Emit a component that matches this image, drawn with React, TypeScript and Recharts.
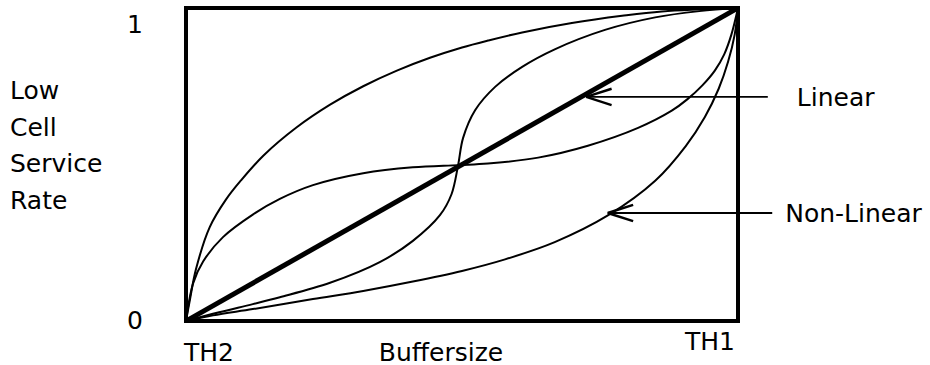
import {
  ComposedChart,
  Line,
  XAxis,
  YAxis,
  ReferenceArea,
  ReferenceLine,
} from 'recharts';

// normalised buffersize (TH2 = 0, TH1 = 1) vs low cell service rate (0..1)
const linearCurve = [
  { u: 0, v: 0 },
  { u: 1, v: 1 },
];

const upperCurve = [
  { u: 0, v: 0 },
  { u: 0.007, v: 0.067 },
  { u: 0.018, v: 0.165 },
  { u: 0.043, v: 0.3 },
  { u: 0.072, v: 0.387 },
  { u: 0.1, v: 0.45 },
  { u: 0.14, v: 0.528 },
  { u: 0.2, v: 0.618 },
  { u: 0.261, v: 0.691 },
  { u: 0.321, v: 0.75 },
  { u: 0.382, v: 0.8 },
  { u: 0.442, v: 0.841 },
  { u: 0.5, v: 0.874 },
  { u: 0.547, v: 0.896 },
  { u: 0.609, v: 0.922 },
  { u: 0.699, v: 0.952 },
  { u: 0.79, v: 0.975 },
  { u: 0.862, v: 0.989 },
  { u: 1, v: 1 },
];

const lowerCurve = [
  { u: 0, v: 0 },
  { u: 0.049, v: 0.018 },
  { u: 0.121, v: 0.038 },
  { u: 0.23, v: 0.07 },
  { u: 0.321, v: 0.096 },
  { u: 0.411, v: 0.126 },
  { u: 0.5, v: 0.16 },
  { u: 0.578, v: 0.197 },
  { u: 0.668, v: 0.252 },
  { u: 0.765, v: 0.338 },
  { u: 0.85, v: 0.448 },
  { u: 0.905, v: 0.558 },
  { u: 0.94, v: 0.652 },
  { u: 0.965, v: 0.742 },
  { u: 0.982, v: 0.828 },
  { u: 0.994, v: 0.915 },
  { u: 1, v: 1 },
];

// S-curve flattening out around the midpoint
const flatSCurve = [
  { u: 0, v: 0 },
  { u: 0.013, v: 0.121 },
  { u: 0.031, v: 0.19 },
  { u: 0.067, v: 0.268 },
  { u: 0.121, v: 0.34 },
  { u: 0.17, v: 0.39 },
  { u: 0.23, v: 0.434 },
  { u: 0.321, v: 0.472 },
  { u: 0.411, v: 0.491 },
  { u: 0.493, v: 0.498 },
  { u: 0.547, v: 0.503 },
  { u: 0.638, v: 0.522 },
  { u: 0.728, v: 0.56 },
  { u: 0.819, v: 0.617 },
  { u: 0.88, v: 0.672 },
  { u: 0.908, v: 0.708 },
  { u: 0.935, v: 0.752 },
  { u: 0.958, v: 0.8 },
  { u: 0.975, v: 0.852 },
  { u: 0.988, v: 0.915 },
  { u: 1, v: 1 },
];

// S-curve rising steeply through the midpoint
const steepSCurve = [
  { u: 0, v: 0 },
  { u: 0.06, v: 0.028 },
  { u: 0.121, v: 0.054 },
  { u: 0.17, v: 0.076 },
  { u: 0.261, v: 0.122 },
  { u: 0.351, v: 0.188 },
  { u: 0.411, v: 0.256 },
  { u: 0.46, v: 0.338 },
  { u: 0.481, v: 0.405 },
  { u: 0.493, v: 0.498 },
  { u: 0.502, v: 0.585 },
  { u: 0.524, v: 0.674 },
  { u: 0.56, v: 0.748 },
  { u: 0.609, v: 0.812 },
  { u: 0.668, v: 0.868 },
  { u: 0.759, v: 0.93 },
  { u: 0.85, v: 0.97 },
  { u: 0.93, v: 0.99 },
  { u: 1, v: 1 },
];

const curves = [upperCurve, lowerCurve, flatSCurve, steepSCurve];

// annotation arrows: tip (on curve) and tail (outside the box), in data units
const arrowNames = ['Linear', 'Non-Linear'];
const arrowTips = [
  { u: 0.725, v: 0.716 },
  { u: 0.764, v: 0.345 },
];
const arrowTails = [
  { u: 1.054, v: 0.716 },
  { u: 1.062, v: 0.345 },
];
const labelGaps = [29, 13];

const xTickLabels = ['TH2', 'TH1'];
const yTickLabels = ['0', '1'];
const yTitleLines = ['Low', 'Cell', 'Service', 'Rate'];

const FONT = '"DejaVu Sans", sans-serif';
const HEAD_U = 0.046;
const HEAD_V = 0.026;

// centripetal Catmull-Rom, so the curves stay smooth where they run almost vertical
function catmullRom(context: any) {
  let pts: number[][] = [];
  return {
    areaStart() {},
    areaEnd() {},
    lineStart() {
      pts = [];
    },
    point(x: number, y: number) {
      pts.push([+x, +y]);
    },
    lineEnd() {
      if (!pts.length) return;
      context.moveTo(pts[0][0], pts[0][1]);
      for (let i = 0; i < pts.length - 1; i++) {
        const p0 = pts[i - 1] || pts[i];
        const p1 = pts[i];
        const p2 = pts[i + 1];
        const p3 = pts[i + 2] || pts[i + 1];
        const d01 = Math.hypot(p1[0] - p0[0], p1[1] - p0[1]);
        const d12 = Math.hypot(p2[0] - p1[0], p2[1] - p1[1]);
        const d23 = Math.hypot(p3[0] - p2[0], p3[1] - p2[1]);
        const l01 = Math.sqrt(d01);
        const l12 = Math.sqrt(d12);
        const l23 = Math.sqrt(d23);
        let c1 = p1;
        let c2 = p2;
        if (l01 > 1e-6) {
          const a = 2 * d01 + 3 * l01 * l12 + d12;
          const n = 3 * l01 * (l01 + l12);
          c1 = [
            (p1[0] * a - p0[0] * d12 + p2[0] * d01) / n,
            (p1[1] * a - p0[1] * d12 + p2[1] * d01) / n,
          ];
        }
        if (l23 > 1e-6) {
          const b = 2 * d23 + 3 * l23 * l12 + d12;
          const m = 3 * l23 * (l23 + l12);
          c2 = [
            (p2[0] * b + p1[0] * d23 - p3[0] * d12) / m,
            (p2[1] * b + p1[1] * d23 - p3[1] * d12) / m,
          ];
        }
        context.bezierCurveTo(c1[0], c1[1], c2[0], c2[1], p2[0], p2[1]);
      }
    },
  };
}

function YTick(props: any) {
  const { x, y, payload } = props;
  const idx = payload.value === 1 ? 1 : 0;
  return (
    <text
      x={x - 43}
      y={y + (idx === 1 ? 15 : -1)}
      textAnchor="end"
      dominantBaseline="central"
      fontFamily={FONT}
      fontSize={25}
      fill="#000"
    >
      {yTickLabels[idx]}
    </text>
  );
}

function XTick(props: any) {
  const { x, y, payload } = props;
  const idx = payload.value === 1 ? 1 : 0;
  return (
    <text
      x={idx === 0 ? x - 2 : x - 3}
      y={idx === 0 ? y + 31 : y + 20}
      textAnchor={idx === 0 ? 'start' : 'end'}
      dominantBaseline="central"
      fontFamily={FONT}
      fontSize={25}
      fill="#000"
    >
      {xTickLabels[idx]}
    </text>
  );
}

function YTitle() {
  return (
    <text fontFamily={FONT} fontSize={25} fill="#000">
      {yTitleLines.map((line, i) => (
        <tspan key={line} x={10} y={99 + i * 36.7}>
          {line}
        </tspan>
      ))}
    </text>
  );
}

function XTitle() {
  return (
    <text
      x={441}
      y={352}
      textAnchor="middle"
      dominantBaseline="central"
      fontFamily={FONT}
      fontSize={25}
      fill="#000"
    >
      Buffersize
    </text>
  );
}

export default function App() {
  return (
    <div style={{ position: 'absolute', left: 0, top: 0, width: 930, height: 365, background: '#fff' }}>
      <ComposedChart
        width={930}
        height={365}
        margin={{ top: 8, right: 192, bottom: 0, left: 126 }}
      >
        <XAxis
          type="number"
          dataKey="u"
          domain={[0, 1]}
          ticks={[0, 1]}
          height={44}
          axisLine={false}
          tickLine={false}
          tickSize={0}
          tickMargin={0}
          tick={<XTick />}
          allowDataOverflow
          label={{ content: () => <XTitle /> }}
        />
        <YAxis
          type="number"
          dataKey="v"
          domain={[0, 1]}
          ticks={[0, 1]}
          width={60}
          axisLine={false}
          tickLine={false}
          tickSize={0}
          tickMargin={0}
          tick={<YTick />}
          allowDataOverflow
          label={{ content: () => <YTitle /> }}
        />
        <ReferenceArea
          x1={0}
          x2={1}
          y1={0}
          y2={1}
          fill="none"
          stroke="#000"
          strokeWidth={4}
        />
        {curves.map((c, i) => (
          <Line
            key={i}
            data={c}
            dataKey="v"
            type={catmullRom as any}
            stroke="#000"
            strokeWidth={2}
            dot={false}
            activeDot={false}
            isAnimationActive={false}
          />
        ))}
        <Line
          data={linearCurve}
          dataKey="v"
          type="linear"
          stroke="#000"
          strokeWidth={5}
          dot={false}
          activeDot={false}
          isAnimationActive={false}
        />
        {arrowNames.map((name, i) => (
          <ReferenceLine
            key={name}
            ifOverflow="visible"
            segment={[
              { x: arrowTips[i].u, y: arrowTips[i].v },
              { x: arrowTails[i].u, y: arrowTails[i].v },
            ]}
            stroke="#000"
            strokeWidth={1.8}
            label={{
              value: name,
              position: 'right',
              offset: labelGaps[i],
              fill: '#000',
              fontSize: 25,
              fontFamily: FONT,
            }}
          />
        ))}
        {arrowNames.map((name, i) =>
          [1, -1].map((s) => (
            <ReferenceLine
              key={name + s}
              ifOverflow="visible"
              segment={[
                { x: arrowTips[i].u, y: arrowTips[i].v },
                { x: arrowTips[i].u + HEAD_U, y: arrowTips[i].v + s * HEAD_V },
              ]}
              stroke="#000"
              strokeWidth={2.4}
            />
          ))
        )}
      </ComposedChart>
    </div>
  );
}
